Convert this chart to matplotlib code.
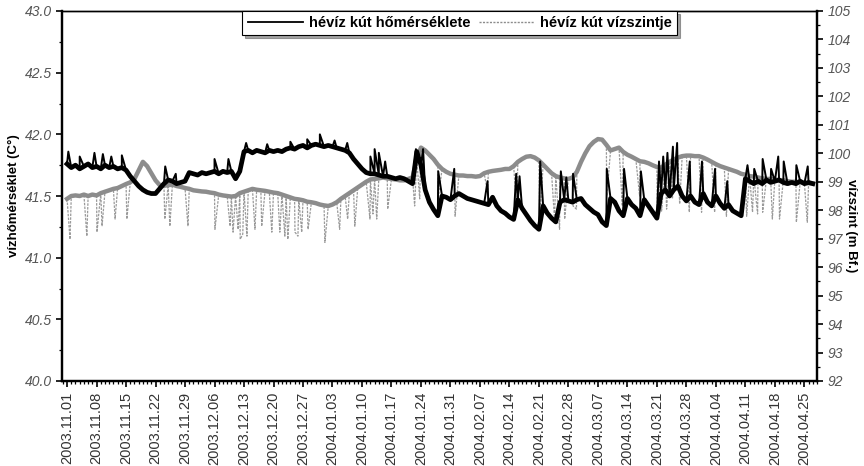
import matplotlib.pyplot as plt
import numpy as np
from matplotlib.lines import Line2D
from matplotlib.ticker import MultipleLocator

plt.rcParams['font.family'] = ['Liberation Sans', 'DejaVu Sans']

# daily readings from 2003.11.01 (day 0) to 2004.04.26
temp_base = [
    41.76, 41.73, 41.75, 41.72, 41.74, 41.76, 41.73, 41.74, 41.72, 41.75, 41.73, 41.74, 41.72, 41.73,
    41.71, 41.66, 41.62, 41.58, 41.55, 41.53,
    41.52, 41.52, 41.56, 41.60, 41.63, 41.62, 41.60, 41.61, 41.62, 41.69,
    41.68, 41.67, 41.69, 41.68, 41.69, 41.70, 41.68, 41.70, 41.69, 41.70,
    41.64, 41.70, 41.86, 41.87, 41.85, 41.87, 41.86, 41.85, 41.87, 41.86,
    41.87, 41.86, 41.88, 41.89, 41.88, 41.90, 41.91, 41.89, 41.91, 41.92,
    41.91, 41.90, 41.91, 41.90, 41.89, 41.88, 41.87, 41.85, 41.80, 41.76,
    41.72, 41.69, 41.68, 41.68, 41.67, 41.66, 41.66, 41.65, 41.64, 41.65,
    41.64, 41.62, 41.60, 41.86, 41.75, 41.55, 41.45, 41.39, 41.34, 41.50,
    41.49, 41.47, 41.50, 41.52, 41.50, 41.48, 41.47, 41.46, 41.45, 41.44,
    41.43, 41.49, 41.42, 41.38, 41.36, 41.33, 41.31, 41.47, 41.40, 41.35,
    41.30, 41.26, 41.23, 41.42, 41.36, 41.32, 41.29, 41.45, 41.47, 41.46,
    41.45, 41.47, 41.48, 41.43, 41.40, 41.37, 41.35, 41.29, 41.26, 41.48,
    41.45, 41.38, 41.34, 41.48, 41.43, 41.40, 41.34, 41.47, 41.42, 41.37,
    41.32, 41.52, 41.55, 41.50, 41.55, 41.58, 41.50, 41.46, 41.50, 41.45,
    41.43, 41.52, 41.45, 41.42, 41.50, 41.44, 41.40, 41.43, 41.38, 41.36,
    41.34, 41.64, 41.62, 41.60, 41.62, 41.60, 41.63, 41.61, 41.62, 41.63,
    41.61, 41.60, 41.61, 41.60, 41.62, 41.60, 41.61, 41.60,
]
level_base = [
    98.40, 98.50, 98.52, 98.50, 98.55, 98.50, 98.55, 98.52, 98.60, 98.65,
    98.70, 98.75, 98.78, 98.85, 98.92, 98.98, 99.10, 99.40, 99.70, 99.55,
    99.30, 99.05, 98.88, 98.86, 98.88, 98.90, 98.85, 98.82, 98.78, 98.75,
    98.70, 98.68, 98.66, 98.65, 98.62, 98.60, 98.55, 98.52, 98.50, 98.48,
    98.50, 98.60, 98.65, 98.70, 98.75, 98.72, 98.70, 98.68, 98.65, 98.62,
    98.60, 98.55, 98.50, 98.45, 98.40, 98.38, 98.35, 98.30, 98.28, 98.25,
    98.20, 98.17, 98.15, 98.20, 98.28, 98.40, 98.50, 98.60, 98.70, 98.80,
    98.90, 99.00, 99.08, 99.10, 99.12, 99.15, 99.12, 99.10, 99.08, 99.05,
    99.05, 99.10, 99.15, 99.80, 100.20, 100.10, 99.95, 99.80, 99.60, 99.45,
    99.35, 99.28, 99.25, 99.22, 99.22, 99.20, 99.20, 99.18, 99.20, 99.30,
    99.35, 99.38, 99.40, 99.42, 99.45, 99.45, 99.55, 99.70, 99.80, 99.88,
    99.90, 99.85, 99.75, 99.60, 99.45, 99.30, 99.20, 99.15, 99.12, 99.10,
    99.15, 99.35, 99.70, 100.00, 100.25, 100.40, 100.50, 100.48, 100.30, 100.10,
    100.15, 100.20, 100.05, 99.95, 99.88, 99.80, 99.72, 99.70, 99.65, 99.58,
    99.52, 99.50, 99.60, 99.70, 99.78, 99.85, 99.90, 99.92, 99.92, 99.90,
    99.90, 99.85, 99.78, 99.70, 99.62, 99.55, 99.50, 99.45, 99.40, 99.35,
    99.28, 99.25, 99.20, 99.18, 99.15, 99.12, 99.10, 99.10, 99.08, 99.06,
    99.05, 99.02, 99.00, 99.00, 98.98, 98.96, 98.95, 98.94,
]

# short events (pump starts): temperature jumps up, water level drops
temp_spike_days = [0.3, 3.0, 6.5, 8.5, 10.5, 13.0, 23.3, 25.8, 35.0, 38.3,
                   42.5, 47.5, 53.0, 57.0, 60.0, 63.5, 66.5, 72.0, 73.0, 74.0,
                   75.5, 82.8, 84.5, 88.1, 91.9, 99.8, 106.6, 107.4, 112.3, 117.2,
                   118.5, 120.1, 128.1, 132.2, 136.2, 140.5, 141.5, 142.5, 143.8, 144.8,
                   147.8, 150.7, 153.8, 156.7, 161.5, 163.1, 165.1, 167.1, 168.8, 170.1,
                   173.1, 175.8]
temp_spike_vals = [41.86, 41.82, 41.85, 41.84, 41.82, 41.83, 41.74, 41.68, 41.80, 41.80,
                   41.93, 41.92, 41.94, 41.96, 42.00, 41.95, 41.93, 41.82, 41.88, 41.85,
                   41.78, 41.88, 41.88, 41.70, 41.72, 41.62, 41.68, 41.66, 41.78, 41.70,
                   41.65, 41.68, 41.72, 41.72, 41.70, 41.78, 41.82, 41.85, 41.90, 41.93,
                   41.78, 41.78, 41.72, 41.62, 41.75, 41.72, 41.80, 41.72, 41.82, 41.78,
                   41.75, 41.74]

level_spike_days = [0.7, 4.7, 7.1, 8.3, 11.4, 14.2, 23.2, 24.4, 28.7, 35.1,
                    38.7, 39.4, 40.6, 41.1, 41.7, 42.7, 44.6, 46.2, 48.6, 50.5,
                    51.7, 52.4, 54.1, 54.8, 55.7, 57.2, 61.2, 64.7, 66.6, 68.3,
                    71.9, 72.6, 73.5, 76.1, 82.5, 83.7, 88.1, 92.1, 99.8, 106.7,
                    112.2, 115.7, 116.9, 118.1, 120.1, 120.9, 128.1, 131.8, 135.9, 140.1,
                    141.1, 142.3, 143.7, 145.4, 147.7, 150.6, 153.7, 156.5, 161.3, 162.7,
                    163.9, 165.1, 167.4, 169.1, 173.1, 175.7]
level_spike_vals = [96.98, 97.09, 97.23, 97.44, 97.69, 97.69, 97.69, 97.44, 97.44, 97.33,
                    97.44, 97.23, 97.33, 96.98, 97.16, 97.09, 97.33, 97.44, 97.23, 97.23,
                    97.09, 96.98, 97.23, 97.09, 97.23, 97.33, 96.87, 97.33, 97.69, 97.44,
                    97.69, 97.87, 97.69, 98.04, 98.15, 98.40, 98.40, 97.79, 98.64, 98.15,
                    97.69, 97.69, 97.33, 97.69, 98.15, 98.04, 98.50, 98.15, 98.50, 98.04,
                    97.97, 98.04, 98.40, 98.22, 97.93, 97.93, 97.93, 97.79, 97.79, 97.93,
                    97.87, 97.93, 97.69, 97.69, 97.58, 97.58]

tick_labels = ['2003.11.01', '2003.11.08', '2003.11.15', '2003.11.22', '2003.11.29',
               '2003.12.06', '2003.12.13', '2003.12.20', '2003.12.27', '2004.01.03',
               '2004.01.10', '2004.01.17', '2004.01.24', '2004.01.31', '2004.02.07',
               '2004.02.14', '2004.02.21', '2004.02.28', '2004.03.07', '2004.03.14',
               '2004.03.21', '2004.03.28', '2004.04.04', '2004.04.11', '2004.04.18',
               '2004.04.25']

days = np.arange(len(temp_base))


def with_spikes(base, spike_days, spike_vals):
    x = np.concatenate([days, spike_days])
    y = np.concatenate([base, spike_vals])
    order = np.argsort(x, kind='stable')
    return x[order], y[order]


fig = plt.figure(figsize=(8.64, 4.66), dpi=100)
ax = fig.add_axes([62 / 864, 1 - 381 / 466, 755 / 864, 370 / 466])
ax2 = ax.twinx()
ax.set_zorder(ax2.get_zorder() + 1)
ax.patch.set_visible(False)

gray = '#8c8c8c'
lx, ly = with_spikes(level_base, level_spike_days, level_spike_vals)
ax2.plot(lx, ly, color='#9a9a9a', lw=0.9, ls=(0, (2, 1)))
ax2.plot(days, level_base, color=gray, lw=3.2)

tx, ty = with_spikes(temp_base, temp_spike_days, temp_spike_vals)
ax.plot(tx, ty, color='black', lw=1.4)
ax.plot(days, temp_base, color='black', lw=3.4)

ax.set_xlim(-1.2, 178)
ax.set_ylim(40.0, 43.0)
ax2.set_ylim(92, 105)

ax.set_xticks(np.arange(0, 7 * len(tick_labels), 7))
ax.set_xticklabels(tick_labels, rotation=90, fontsize=10.5, color='#333333')
ax.xaxis.set_minor_locator(MultipleLocator(1))
ax.yaxis.set_major_locator(MultipleLocator(0.5))
ax.yaxis.set_minor_locator(MultipleLocator(0.25))
ax.yaxis.set_major_formatter(plt.FormatStrFormatter('%.1f'))
ax2.yaxis.set_major_locator(MultipleLocator(1))
ax2.yaxis.set_minor_locator(MultipleLocator(0.5))

for a in (ax, ax2):
    a.tick_params(which='major', length=4, width=1.2, direction='out')
    a.tick_params(which='minor', length=2.5, width=0.9, direction='out')
    for s in a.spines.values():
        s.set_linewidth(1.6)
    a.spines['top'].set_linewidth(1.0)
for lab in ax.get_yticklabels() + ax2.get_yticklabels():
    lab.set_fontstyle('italic')
    lab.set_fontsize(10)
    lab.set_color('#555555')

ax.set_ylabel('vízhőmérséklet (C°)', fontsize=9.5, fontweight='bold')
ax.yaxis.set_label_coords(-0.056, 0.5)
ax2.set_ylabel('vízszint (m Bf.)', fontsize=9.5, fontweight='bold', rotation=270)
ax2.yaxis.set_label_coords(1.053, 0.42)

handles = [Line2D([], [], color='black', lw=1.3),
           Line2D([], [], color=gray, lw=1.0, ls=(0, (1.5, 1)))]
leg = ax.legend(handles, ['hévíz kút hőmérséklete', 'hévíz kút vízszintje'],
                loc='upper center', bbox_to_anchor=(0.527, 1.0), borderaxespad=0,
                ncol=2, fancybox=False, shadow=True, framealpha=1, edgecolor='black',
                prop={'weight': 'bold', 'size': 10.5}, handlelength=3.8,
                handletextpad=0.4, columnspacing=0.6, borderpad=0.35)
leg.get_frame().set_linewidth(0.8)

fig.savefig('out.png', dpi=100)
